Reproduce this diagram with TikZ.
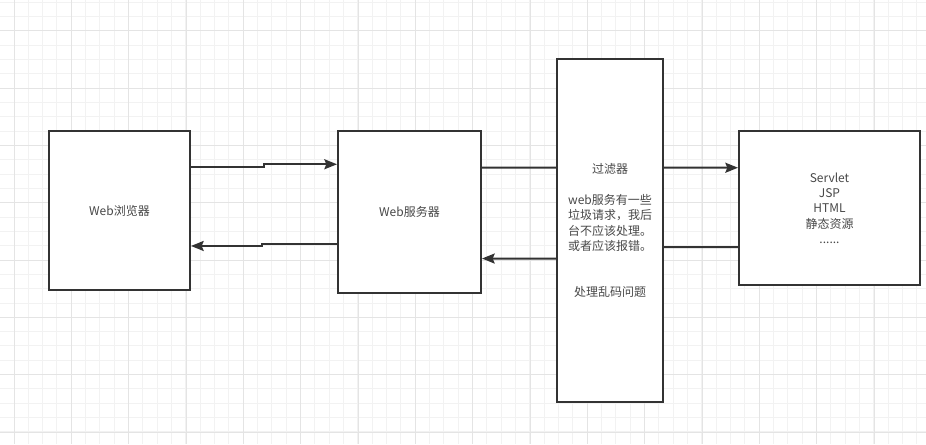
\documentclass[tikz,border=0pt]{standalone}
\usepackage{fontspec}
\setmainfont{Noto Sans CJK SC}
\usetikzlibrary{arrows.meta}
\definecolor{cEdge}{RGB}{51,51,51}
\definecolor{cText}{RGB}{72,72,72}
\definecolor{cGridMin}{RGB}{242,242,242}
\definecolor{cGridMaj}{RGB}{228,228,228}

\begin{document}
\begin{tikzpicture}[
  x=0.75pt, y=-0.75pt, color=cEdge,
  font=\fontsize{9pt}{11.5pt}\selectfont,
  box/.style={draw=cEdge, fill=white, line width=1.5pt, align=center,
              inner sep=0pt, text=cText},
  wA/.style ={minimum width=105.75pt, minimum height=119.25pt},
  wB/.style ={minimum width=107.25pt, minimum height=121.5pt},
  wC/.style ={minimum width=79.5pt,   minimum height=257.25pt},
  wD/.style ={minimum width=135.75pt, minimum height=115.5pt},
  gmin/.style={draw=cGridMin, line width=0.75pt},
  gmaj/.style={draw=cGridMaj, line width=0.75pt},
  conn/.style={-{Stealth[length=9.5pt,width=7.5pt,inset=1.5pt]}, line width=1.5pt, draw=cEdge},
  link/.style={line width=1.5pt, draw=cEdge},
]
\useasboundingbox (0,0) rectangle (926,444);
\fill[white] (0,0) rectangle (926,444);

% ----- background grid --------------------------------------------------
\foreach \i in {0,...,65} \draw[gmin] ({-0.333+\i*14.333},0) -- ++(0,444);
\foreach \j in {0,...,31} \draw[gmin] (0,{2+\j*14.333}) -- ++(926,0);
\foreach \i in {0,...,16} \draw[gmaj] ({14+\i*57.333},0) -- ++(0,444);
\foreach \j in {0,...,7}  \draw[gmaj] (0,{30.7+\j*57.333}) -- ++(926,0);

% columns: 119.5 / 409.5 / 610 / 829.5 (px)
\node[box,wA] (browser) at (119.5,210.5) {Web浏览器};
\node[box,wB] (server)  at (409.5,212)   {Web服务器};
\node[box,wC] (filter)  at (610,230.5)   {过滤器\\[11.5pt]
                                          web服务有一些\\垃圾请求，我后\\
                                          台不应该处理。\\或者应该报错。\\[23pt]
                                          处理乱码问题};
\node[box,wD] (servlet) at (829.5,208)   {Servlet\\JSP\\HTML\\静态资源\\......};

% ----- request: browser -> server -> filter -> servlet -----------------
\draw[conn] ([yshift=32.85pt]browser.east) -- ++(73,0) |- ([yshift=35.8pt]server.west);
\draw[link] ([yshift=33.2pt]server.east)   -- ([yshift=47.1pt]filter.west);
\draw[conn] ([yshift=47.1pt]filter.east)   -- ([yshift=30.2pt]servlet.west);

% ----- response: servlet -> filter -> server -> browser ----------------
\draw[link] ([yshift=-29.25pt]servlet.west) -- ([yshift=-12.4pt]filter.east);
\draw[conn] ([yshift=-21pt]filter.west)     -- ([yshift=-34.9pt]server.east);
\draw[conn] ([yshift=-24.2pt]server.west) -- ++(-75,0) |- ([yshift=-26.6pt]browser.east);

\end{tikzpicture}
\end{document}
